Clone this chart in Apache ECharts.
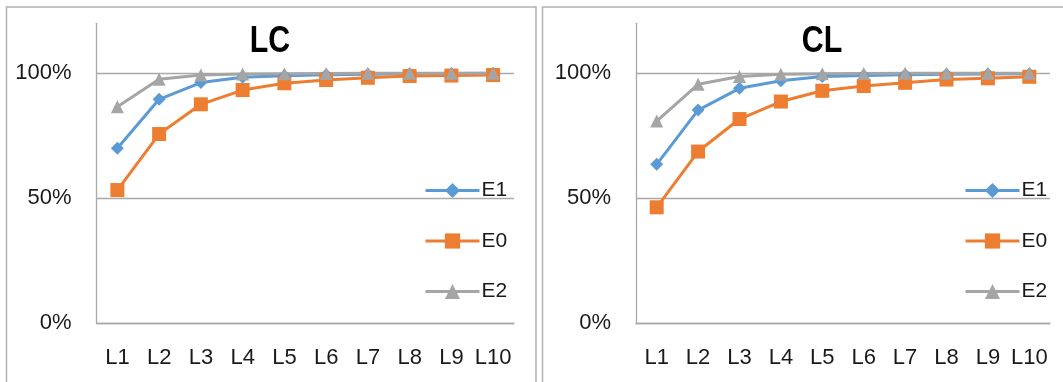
<!DOCTYPE html>
<html>
<head>
<meta charset="utf-8">
<script src="https://cdn.jsdelivr.net/npm/echarts@6/dist/echarts.min.js"></script>
<style>
html,body{margin:0;padding:0;background:#fff;}
#c{width:1063px;height:382px;}
</style>
</head>
<body>
<div id="c"></div>
<script>
const categories = ['L1','L2','L3','L4','L5','L6','L7','L8','L9','L10'];
const seriesNames = ['E1','E0','E2'];
const panelTitles = ['LC','CL'];
// LC panel
const lcE1 = [0.700,0.896,0.963,0.984,0.990,0.994,0.996,0.998,0.999,1.000];
const lcE0 = [0.533,0.757,0.876,0.933,0.960,0.973,0.982,0.989,0.991,0.993];
const lcE2 = [0.866,0.976,0.993,0.997,0.998,0.999,1.000,1.000,1.000,1.000];
// CL panel
const clE1 = [0.636,0.853,0.940,0.970,0.987,0.991,0.994,0.996,0.997,0.998];
const clE0 = [0.464,0.687,0.817,0.887,0.930,0.949,0.962,0.975,0.980,0.986];
const clE2 = [0.809,0.956,0.987,0.996,0.998,0.999,1.000,1.000,1.000,1.000];

const colors = {E1:'#5B9BD5', E0:'#ED7D31', E2:'#A5A5A5'};
const symbols = {E1:'diamond', E0:'rect', E2:'triangle'};
const symbolSizes = {E1:13, E0:14, E2:13};
const gridColor = '#a9a9a9';
const font = '"Liberation Sans", Arial, sans-serif';

const panels = [
  {title: panelTitles[0], data: {E1: lcE1, E0: lcE0, E2: lcE2}},
  {title: panelTitles[1], data: {E1: clE1, E0: clE0, E2: clE2}}
];

const grids = [
  {left: 96.5, right: 1063 - 514, top: 23.3, bottom: 382 - 323.3},
  {left: 636, right: 1063 - 1050, top: 23.3, bottom: 382 - 323.3}
];

const xAxes = grids.map((g, i) => ({
  type: 'category', gridIndex: i, data: categories, boundaryGap: true,
  axisLine: {show: true, lineStyle: {color: gridColor, width: 1.3}},
  axisTick: {show: false},
  axisLabel: {interval: 0, color: '#1a1a1a', fontSize: 22, fontFamily: font, margin: 24}
}));

const yAxes = grids.map((g, i) => ({
  type: 'value', gridIndex: i, min: 0, max: 1.2, interval: 0.5,
  axisLine: {show: true, lineStyle: {color: gridColor, width: 1.3}},
  axisTick: {show: false},
  axisLabel: {
    color: '#1a1a1a', fontSize: 22, fontFamily: font, margin: 25,
    formatter: v => (v > 1.1 ? '' : Math.round(v * 100) + '%')
  },
  splitLine: {show: true, lineStyle: {color: [gridColor, gridColor, gridColor, 'rgba(0,0,0,0)'], width: 1.3}}
}));

const series = [];
panels.forEach((p, i) => {
  seriesNames.forEach(n => {
    series.push({
      name: n, type: 'line', xAxisIndex: i, yAxisIndex: i,
      data: p.data[n],
      symbol: symbols[n], symbolSize: symbolSizes[n],
      lineStyle: {color: colors[n], width: 3},
      itemStyle: {color: colors[n]},
      emphasis: {disabled: true},
      animation: false
    });
  });
});

const legends = [424, 964].map(x => ({
  orient: 'vertical', left: x, top: 180, padding: 0,
  itemWidth: 54, itemHeight: 19, itemGap: 29.5,
  data: seriesNames.map(n => ({name: n, lineStyle: {width: 3, color: colors[n]}})),
  selectedMode: false,
  lineStyle: {width: 3},
  textStyle: {fontSize: 21, fontFamily: font, color: '#1a1a1a', lineHeight: 19, padding: [0, 0, 0, -3]}
}));

const titleText = [
  {label: panelTitles[0], x: 270},
  {label: panelTitles[1], x: 822}
].map(t => ({
  type: 'text', x: t.x, y: 42, scaleX: 0.82, silent: true, z: 10,
  style: {text: t.label, font: 'bold 37px "Liberation Sans", Arial, sans-serif',
          fill: '#000', textAlign: 'center', textVerticalAlign: 'middle'}
}));

const chart = echarts.init(document.getElementById('c'), null, {renderer: 'canvas'});
chart.setOption({
  animation: false,
  backgroundColor: '#fff',
  legend: legends,
  grid: grids,
  xAxis: xAxes,
  yAxis: yAxes,
  series: series,
  graphic: [
    {type: 'rect', shape: {x: 6.5, y: 7, width: 529.5, height: 400}, style: {fill: 'none', stroke: '#b0b0b0', lineWidth: 1.5}, z: -1, silent: true},
    {type: 'rect', shape: {x: 542.5, y: 7, width: 530, height: 400}, style: {fill: 'none', stroke: '#b0b0b0', lineWidth: 1.5}, z: -1, silent: true}
  ].concat(titleText)
});
</script>
</body>
</html>
